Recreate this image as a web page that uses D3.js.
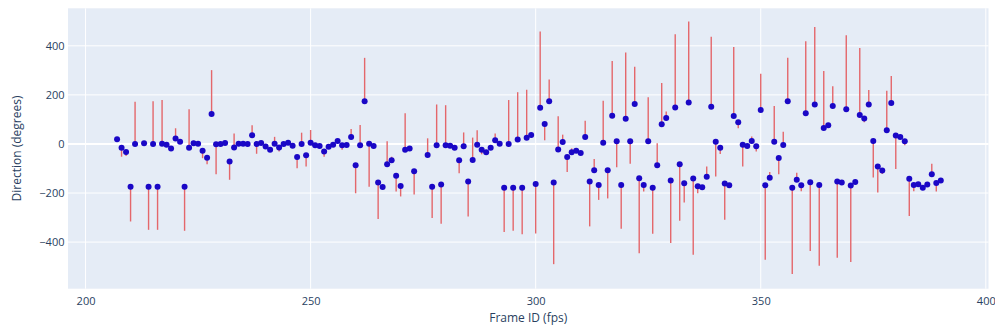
<!DOCTYPE html>
<html>
<head>
<meta charset="utf-8">
<script src="https://cdn.jsdelivr.net/npm/d3@7"></script>
<style>
  html, body { margin: 0; padding: 0; background: #ffffff; }
  svg { display: block; }
  text { font-family: "Open Sans", "DejaVu Sans", sans-serif; }
</style>
</head>
<body>
<svg id="chart" width="995" height="332"></svg>
<script>
// Frame numbers, mean direction and asymmetric error extents (degrees)
const frameIds = [
  207,208,209,210,211,213,214,215,216,217,218,219,220,221,222,223,224,225,226,227,228,229,230,231,232,233,234,235,236,237,
  238,239,240,241,242,243,244,245,246,247,248,249,250,251,252,253,254,255,256,257,258,259,260,261,262,263,264,265,266,267,
  268,269,270,271,272,273,276,277,278,279,280,281,282,283,284,285,286,287,288,289,290,291,292,293,294,295,296,297,298,299,
  300,301,302,303,304,305,306,307,308,309,310,311,312,313,314,315,316,317,318,319,320,321,322,323,324,325,326,327,328,329,
  330,331,332,333,334,335,336,337,338,339,340,341,342,343,344,345,346,347,348,349,350,351,352,353,354,355,356,357,358,359,
  360,361,362,363,364,365,366,367,368,369,370,371,372,373,374,375,376,377,378,379,380,381,382,383,384,385,386,387,388,389,
  390
];
const directions = [
  19,-15,-33,-174,0,3,-174,0,-174,1,-3,-18,22,9,-174,-15,3,1,-28,-56,122,-1,0,4,-72,-14,1,1,0,36,
  0,4,-10,-24,1,-14,0,5,-7,-53,0,-46,5,-5,-8,-31,-11,-3,12,-5,-4,28,-87,-5,174,1,-8,-157,-175,-83,
  -66,-130,-171,-24,-18,-111,-45,-174,-5,-165,-5,-7,-15,-66,-9,-153,-65,-3,-24,-34,-15,15,1,-179,0,-179,18,-178,25,37,
  -163,148,81,174,-157,-23,8,-53,-34,-28,-37,28,-153,-107,-167,5,-107,115,11,-167,103,11,163,-140,-167,11,-178,-87,80,106,
  -149,149,-83,-160,169,-141,-172,-176,-134,152,9,-15,-161,-168,114,88,-3,-8,12,-9,138,-168,-138,9,-57,-4,174,-179,-146,-168,
  125,-156,161,-167,65,76,155,-153,-157,142,-169,-155,118,104,161,12,-92,-108,56,167,34,28,11,-142,-167,-164,-178,-165,-123,-159,
  -149
];
const errorUp = [
  0,0,0,0,172,0,0,174,0,178,0,0,42,0,0,157,10,0,0,0,179,0,0,0,0,57,0,0,0,40,
  0,0,0,0,28,0,0,0,0,0,46,0,52,0,0,0,0,0,0,0,0,33,0,82,177,0,0,0,0,94,
  14,0,0,149,0,0,68,0,166,0,163,0,0,0,56,0,91,59,0,0,0,28,0,0,179,0,193,0,196,0,
  0,310,0,89,0,136,30,0,16,0,0,67,0,46,0,171,0,223,0,0,270,0,152,0,0,179,0,90,169,26,
  0,298,0,0,330,0,0,0,42,285,0,0,0,0,281,0,0,0,18,0,148,0,24,146,0,54,177,0,29,0,
  294,0,316,0,232,0,80,0,0,301,0,0,273,0,59,0,0,0,161,110,0,0,0,0,0,0,0,0,42,0,
  0
];
const errorDown = [
  0,37,16,142,0,0,176,0,176,0,0,0,0,0,180,0,0,0,30,27,0,122,0,0,74,0,0,0,0,0,
  40,0,0,0,0,17,0,0,0,46,0,46,0,0,0,21,0,0,0,19,0,0,114,0,0,175,0,149,0,0,
  0,64,43,0,0,95,0,128,0,160,0,0,0,53,0,143,0,0,18,0,0,0,0,180,0,175,0,190,0,0,
  202,0,66,0,333,0,0,61,0,0,0,0,183,0,61,0,115,0,106,179,0,92,0,305,27,0,188,0,0,0,
  255,0,230,79,0,311,29,0,0,0,142,26,148,0,0,24,89,0,0,22,0,304,0,0,66,0,0,351,0,25,
  0,280,0,329,0,0,0,311,0,0,312,0,0,15,0,149,106,14,0,0,136,0,16,152,26,0,0,0,0,35,
  0
];
const xTicks = [200, 250, 300, 350, 400];
const yTicks = [-400, -200, 0, 200, 400];

const points = frameIds.map((f, i) => ({
  frame: f, dir: directions[i], up: errorUp[i], down: errorDown[i]
}));

const plot = { left: 68, right: 988.5, top: 8.3, bottom: 288.7 };

const svg = d3.select("#chart");

const x = d3.scaleLinear().domain([196.1, 400.6]).range([plot.left, plot.right]);
const y = d3.scaleLinear().domain([-590, 553]).range([plot.bottom, plot.top]);

// plot background
svg.append("rect")
  .attr("x", plot.left).attr("y", plot.top)
  .attr("width", plot.right - plot.left).attr("height", plot.bottom - plot.top)
  .attr("fill", "#E5ECF6");

// grid lines
const grid = svg.append("g");
grid.selectAll("line.vx").data(xTicks).join("line")
  .attr("x1", d => x(d)).attr("x2", d => x(d))
  .attr("y1", plot.top).attr("y2", plot.bottom)
  .attr("stroke", "#ffffff").attr("stroke-width", 1);
grid.selectAll("line.hy").data(yTicks.filter(d => d !== 0)).join("line")
  .attr("x1", plot.left).attr("x2", plot.right)
  .attr("y1", d => y(d)).attr("y2", d => y(d))
  .attr("stroke", "#ffffff").attr("stroke-width", 1);
// zero line
grid.append("line")
  .attr("x1", plot.left).attr("x2", plot.right)
  .attr("y1", y(0)).attr("y2", y(0))
  .attr("stroke", "#ffffff").attr("stroke-width", 2);

// axes (labels only, plotly-like)
const xAxis = d3.axisBottom(x).tickValues(xTicks).tickSize(0).tickPadding(9);
svg.append("g")
  .attr("transform", `translate(0,${plot.bottom})`)
  .call(xAxis)
  .call(g => g.select(".domain").remove())
  .call(g => g.selectAll("text").attr("font-size", 11).attr("fill", "#2a3f5f")
    .attr("font-family", "'Open Sans', sans-serif"));

const yAxis = d3.axisLeft(y).tickValues(yTicks).tickSize(0).tickPadding(3)
  .tickFormat(d => d < 0 ? "\u2212" + Math.abs(d) : d);
svg.append("g")
  .attr("transform", `translate(${plot.left - 0.5},0)`)
  .call(yAxis)
  .call(g => g.select(".domain").remove())
  .call(g => g.selectAll("text").attr("font-size", 11).attr("fill", "#2a3f5f")
    .attr("font-family", "'Open Sans', sans-serif"));

// axis titles
svg.append("text")
  .attr("x", (plot.left + plot.right) / 2).attr("y", 322)
  .attr("text-anchor", "middle")
  .attr("font-size", 12).attr("fill", "#2a3f5f")
  .text("Frame ID (fps)");

svg.append("text")
  .attr("transform", `translate(21,${(plot.top + plot.bottom) / 2}) rotate(-90)`)
  .attr("text-anchor", "middle")
  .attr("font-size", 12).attr("fill", "#2a3f5f")
  .text("Direction (degrees)");

// error bars
const bars = svg.append("g");
bars.selectAll("line").data(points.filter(d => d.up > 0 || d.down > 0)).join("line")
  .attr("x1", d => x(d.frame)).attr("x2", d => x(d.frame))
  .attr("y1", d => y(d.dir + d.up)).attr("y2", d => y(d.dir - d.down))
  .attr("stroke", "#e4676b").attr("stroke-width", 1.4);

// markers
svg.append("g").selectAll("circle").data(points).join("circle")
  .attr("cx", d => x(d.frame)).attr("cy", d => y(d.dir))
  .attr("r", 3)
  .attr("fill", "#1a07c6");
</script>
</body>
</html>
